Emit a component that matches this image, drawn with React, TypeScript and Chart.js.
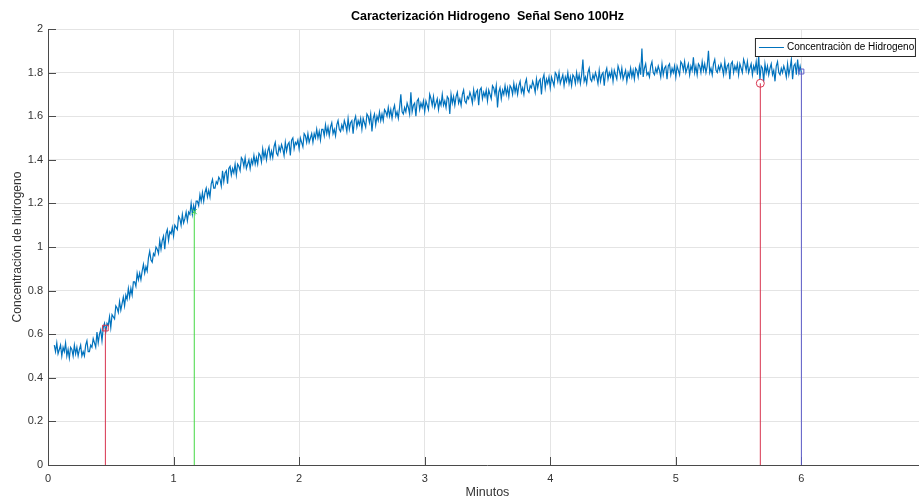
import React, { useEffect, useRef } from "react";
import { Chart, registerables } from "chart.js";

Chart.register(...registerables);

const TITLE = "Caracterización Hidrogeno  Señal Seno 100Hz";
const X_LABEL = "Minutos";
const Y_LABEL = "Concentración de hidrogeno";
const SERIES_LABEL = "Concentraciòn de Hidrogeno";

// sampling of the recorded signal (minutes)
const T0 = 0.05;
const DT = 0.01;

// concentration, one value per sample (10 per row = 0.1 min)
const concentracion = [
  0.55, 0.52, 0.56, 0.51, 0.53, 0.55, 0.50, 0.54, 0.52, 0.56,
  0.50, 0.53, 0.49, 0.54, 0.53, 0.50, 0.55, 0.51, 0.54, 0.50,
  0.53, 0.55, 0.50, 0.52, 0.50, 0.55, 0.57, 0.52, 0.52, 0.55,
  0.54, 0.58, 0.56, 0.54, 0.61, 0.56, 0.60, 0.62, 0.57, 0.63,
  0.65, 0.61, 0.65, 0.64, 0.68, 0.63, 0.69, 0.68, 0.67, 0.73,
  0.72, 0.70, 0.75, 0.71, 0.74, 0.77, 0.73, 0.78, 0.76, 0.81,
  0.77, 0.81, 0.78, 0.84, 0.84, 0.82, 0.88, 0.85, 0.88, 0.85,
  0.89, 0.92, 0.88, 0.91, 0.89, 0.95, 0.98, 0.94, 0.93, 0.97,
  0.96, 1.00, 0.99, 0.97, 1.03, 0.99, 1.03, 1.05, 0.99, 1.06,
  1.08, 1.03, 1.07, 1.06, 1.09, 1.05, 1.10, 1.09, 1.08, 1.14,
  1.13, 1.10, 1.15, 1.11, 1.13, 1.16, 1.12, 1.16, 1.15, 1.20,
  1.15, 1.19, 1.16, 1.21, 1.21, 1.19, 1.24, 1.21, 1.25, 1.21,
  1.25, 1.27, 1.23, 1.26, 1.23, 1.29, 1.31, 1.27, 1.27, 1.30,
  1.29, 1.32, 1.31, 1.28, 1.35, 1.30, 1.34, 1.35, 1.29, 1.36,
  1.37, 1.33, 1.36, 1.34, 1.38, 1.33, 1.38, 1.37, 1.35, 1.41,
  1.40, 1.37, 1.41, 1.36, 1.38, 1.40, 1.36, 1.40, 1.38, 1.42,
  1.38, 1.41, 1.38, 1.43, 1.42, 1.39, 1.45, 1.41, 1.44, 1.40,
  1.44, 1.46, 1.41, 1.44, 1.41, 1.46, 1.48, 1.43, 1.42, 1.46,
  1.44, 1.47, 1.45, 1.42, 1.48, 1.44, 1.47, 1.48, 1.42, 1.49,
  1.50, 1.45, 1.48, 1.47, 1.49, 1.45, 1.50, 1.48, 1.46, 1.52,
  1.51, 1.48, 1.52, 1.48, 1.50, 1.52, 1.48, 1.52, 1.50, 1.54,
  1.50, 1.53, 1.49, 1.54, 1.54, 1.51, 1.56, 1.52, 1.55, 1.51,
  1.55, 1.57, 1.52, 1.54, 1.51, 1.56, 1.58, 1.54, 1.53, 1.56,
  1.54, 1.58, 1.56, 1.53, 1.59, 1.54, 1.57, 1.58, 1.52, 1.58,
  1.60, 1.55, 1.58, 1.56, 1.59, 1.54, 1.59, 1.57, 1.55, 1.61,
  1.60, 1.57, 1.61, 1.53, 1.59, 1.61, 1.56, 1.60, 1.58, 1.62,
  1.58, 1.61, 1.58, 1.63, 1.62, 1.60, 1.64, 1.60, 1.63, 1.59,
  1.63, 1.65, 1.60, 1.62, 1.59, 1.64, 1.70, 1.62, 1.61, 1.64,
  1.62, 1.66, 1.64, 1.61, 1.71, 1.62, 1.65, 1.66, 1.60, 1.67,
  1.68, 1.63, 1.66, 1.64, 1.67, 1.62, 1.67, 1.65, 1.63, 1.70,
  1.68, 1.65, 1.69, 1.64, 1.66, 1.68, 1.63, 1.67, 1.65, 1.70,
  1.65, 1.67, 1.64, 1.69, 1.68, 1.61, 1.70, 1.66, 1.69, 1.65,
  1.69, 1.71, 1.66, 1.68, 1.65, 1.70, 1.72, 1.67, 1.66, 1.69,
  1.68, 1.71, 1.69, 1.66, 1.72, 1.68, 1.71, 1.72, 1.65, 1.72,
  1.73, 1.68, 1.71, 1.69, 1.72, 1.67, 1.72, 1.70, 1.68, 1.74,
  1.73, 1.70, 1.74, 1.64, 1.71, 1.73, 1.68, 1.72, 1.70, 1.74,
  1.70, 1.73, 1.69, 1.74, 1.73, 1.70, 1.75, 1.71, 1.74, 1.70,
  1.74, 1.76, 1.71, 1.73, 1.70, 1.75, 1.77, 1.72, 1.71, 1.74,
  1.73, 1.76, 1.74, 1.71, 1.77, 1.73, 1.76, 1.77, 1.70, 1.77,
  1.79, 1.73, 1.77, 1.75, 1.78, 1.73, 1.78, 1.76, 1.74, 1.80,
  1.79, 1.76, 1.80, 1.75, 1.77, 1.79, 1.74, 1.78, 1.76, 1.80,
  1.75, 1.78, 1.74, 1.79, 1.78, 1.75, 1.80, 1.76, 1.79, 1.75,
  1.79, 1.86, 1.76, 1.78, 1.75, 1.80, 1.82, 1.77, 1.76, 1.79,
  1.77, 1.80, 1.78, 1.75, 1.81, 1.76, 1.79, 1.80, 1.74, 1.80,
  1.82, 1.77, 1.80, 1.78, 1.81, 1.76, 1.81, 1.79, 1.77, 1.83,
  1.81, 1.78, 1.82, 1.77, 1.79, 1.81, 1.76, 1.80, 1.78, 1.82,
  1.78, 1.81, 1.77, 1.82, 1.81, 1.78, 1.83, 1.79, 1.91, 1.78,
  1.82, 1.84, 1.79, 1.80, 1.78, 1.83, 1.85, 1.80, 1.79, 1.82,
  1.80, 1.83, 1.81, 1.78, 1.84, 1.79, 1.82, 1.83, 1.77, 1.83,
  1.84, 1.79, 1.82, 1.80, 1.83, 1.78, 1.83, 1.81, 1.79, 1.85,
  1.84, 1.81, 1.85, 1.80, 1.82, 1.84, 1.79, 1.83, 1.81, 1.87,
  1.80, 1.83, 1.79, 1.84, 1.83, 1.80, 1.85, 1.81, 1.84, 1.80,
  1.83, 1.90, 1.80, 1.82, 1.79, 1.84, 1.86, 1.81, 1.80, 1.83,
  1.81, 1.84, 1.82, 1.79, 1.85, 1.80, 1.83, 1.84, 1.77, 1.84,
  1.85, 1.80, 1.83, 1.81, 1.84, 1.79, 1.84, 1.82, 1.80, 1.86,
  1.84, 1.81, 1.85, 1.80, 1.82, 1.84, 1.79, 1.83, 1.81, 1.85,
  1.79, 1.88, 1.77, 1.83, 1.82, 1.76, 1.84, 1.80, 1.83, 1.79,
  1.82, 1.84, 1.79, 1.81, 1.76, 1.83, 1.85, 1.80, 1.79, 1.82,
  1.80, 1.83, 1.81, 1.78, 1.84, 1.79, 1.82, 1.86, 1.77, 1.83,
  1.84, 1.79, 1.86, 1.80, 1.83, 1.80,
];

// vertical reference lines with their end markers
const markerX = [0.457, 1.165, 5.673, 6.0];
const markerY = [0.628, 1.162, 1.751, 1.805];
const markerColors = ["#d8344f", "#44d844", "#d8344f", "#5c5cc8"];
const markerStyles = ["rect", "crossRot", "circle", "rect"];
const markerSizes = [4, 3.5, 4, 3.5];

const xTicks = [0, 1, 2, 3, 4, 5, 6, 7];
const xTickLabels = ["0", "1", "2", "3", "4", "5", "6", "7"];
const yTicks = [0, 0.2, 0.4, 0.6, 0.8, 1, 1.2, 1.4, 1.6, 1.8, 2];
const yTickLabels = ["0", "0.2", "0.4", "0.6", "0.8", "1", "1.2", "1.4", "1.6", "1.8", "2"];

const FONT = "'Liberation Sans', Arial, Helvetica, sans-serif";
const AXIS_COLOR = "#4a4a4a";
const TEXT_COLOR = "#333333";
const LINE_COLOR = "#0072BD";

const decorPlugin = {
  id: "matlabDecor",
  beforeDatasetsDraw(chart: any) {
    const { ctx, chartArea, scales } = chart;
    const xs = scales.x;
    const ys = scales.y;
    ctx.save();
    ctx.strokeStyle = AXIS_COLOR;
    ctx.lineWidth = 1;
    ctx.beginPath();
    for (const v of yTicks) {
      const py = Math.round(ys.getPixelForValue(v)) + 0.5;
      ctx.moveTo(chartArea.left, py);
      ctx.lineTo(chartArea.left + 8, py);
    }
    for (const v of xTicks) {
      const px = Math.round(xs.getPixelForValue(v)) + 0.5;
      ctx.moveTo(px, chartArea.bottom);
      ctx.lineTo(px, chartArea.bottom - 8);
    }
    ctx.stroke();
    ctx.restore();
  },
  afterDraw(chart: any) {
    const { ctx, chartArea } = chart;
    ctx.save();
    // title
    ctx.fillStyle = "#000000";
    ctx.font = `bold 12.5px ${FONT}`;
    ctx.textAlign = "center";
    ctx.textBaseline = "middle";
    ctx.fillText(TITLE, (chartArea.left + chartArea.right) / 2, 17);
    // legend box
    const bx = chartArea.right - 172;
    const by = chartArea.top + 9;
    const bw = 160;
    const bh = 18;
    ctx.fillStyle = "#ffffff";
    ctx.fillRect(bx, by, bw, bh);
    ctx.strokeStyle = "#262626";
    ctx.lineWidth = 1;
    ctx.strokeRect(bx + 0.5, by + 0.5, bw, bh);
    ctx.strokeStyle = LINE_COLOR;
    ctx.beginPath();
    ctx.moveTo(bx + 4, by + 9.5);
    ctx.lineTo(bx + 29, by + 9.5);
    ctx.stroke();
    ctx.fillStyle = "#000000";
    ctx.font = `10px ${FONT}`;
    ctx.textAlign = "left";
    ctx.textBaseline = "middle";
    ctx.fillText(SERIES_LABEL, bx + 32, by + 9.5);
    ctx.restore();
  },
};

export default function App() {
  const ref = useRef<HTMLCanvasElement | null>(null);

  useEffect(() => {
    if (!ref.current) return;
    const mainData = concentracion.map((y, i) => ({ x: T0 + i * DT, y }));
    const markerSets = markerX.map((mx, i) => ({
      label: "ref" + i,
      data: [
        { x: mx, y: 0 },
        { x: mx, y: markerY[i] },
      ],
      borderColor: markerColors[i],
      borderWidth: 1,
      pointRadius: [0, markerSizes[i]],
      pointStyle: markerStyles[i],
      pointBorderColor: markerColors[i],
      pointBackgroundColor: "rgba(0,0,0,0)",
      pointBorderWidth: 1,
      order: 0,
    }));
    const chart = new Chart(ref.current, {
      type: "line",
      data: {
        datasets: [
          ...markerSets,
          {
            label: SERIES_LABEL,
            data: mainData,
            borderColor: LINE_COLOR,
            borderWidth: 1.2,
            pointRadius: 0,
            tension: 0,
            order: 1,
          },
        ],
      } as any,
      options: {
        responsive: false,
        animation: false,
        events: [],
        layout: { padding: { top: 29, right: 0, left: 0, bottom: 0 } },
        plugins: {
          legend: { display: false },
          title: { display: false },
          tooltip: { enabled: false },
        },
        scales: {
          x: {
            type: "linear",
            min: 0,
            max: 7,
            afterBuildTicks: (s: any) => {
              s.ticks = xTicks.map((v) => ({ value: v }));
            },
            afterFit: (s: any) => {
              s.height = 35;
            },
            ticks: {
              padding: 7,
              color: TEXT_COLOR,
              font: { size: 11, family: FONT },
              maxRotation: 0,
              autoSkip: false,
              callback: (_v: any, i: number) => xTickLabels[i],
            },
            grid: { color: "#e4e4e4", drawTicks: false, lineWidth: 1 },
            border: { color: AXIS_COLOR, width: 1 },
            title: {
              display: true,
              text: X_LABEL,
              color: TEXT_COLOR,
              font: { size: 12.5, family: FONT },
              padding: { top: 0, bottom: 0 },
            },
          },
          y: {
            type: "linear",
            min: 0,
            max: 2,
            afterBuildTicks: (s: any) => {
              s.ticks = yTicks.map((v) => ({ value: v }));
            },
            afterFit: (s: any) => {
              s.width = 48;
            },
            ticks: {
              padding: 5,
              color: TEXT_COLOR,
              font: { size: 11, family: FONT },
              autoSkip: false,
              callback: (_v: any, i: number) => yTickLabels[i],
            },
            grid: { color: "#e4e4e4", drawTicks: false, lineWidth: 1 },
            border: { color: AXIS_COLOR, width: 1 },
            title: {
              display: true,
              text: Y_LABEL,
              color: TEXT_COLOR,
              font: { size: 12, family: FONT },
              padding: { top: 10, bottom: 0 },
            },
          },
        },
      } as any,
      plugins: [decorPlugin],
    });
    return () => chart.destroy();
  }, []);

  return (
    <div
      style={{
        position: "fixed",
        left: 0,
        top: 0,
        width: 919,
        height: 500,
        overflow: "hidden",
        background: "#ffffff",
      }}
    >
      <canvas ref={ref} width={937} height={500} style={{ display: "block" }} />
    </div>
  );
}
